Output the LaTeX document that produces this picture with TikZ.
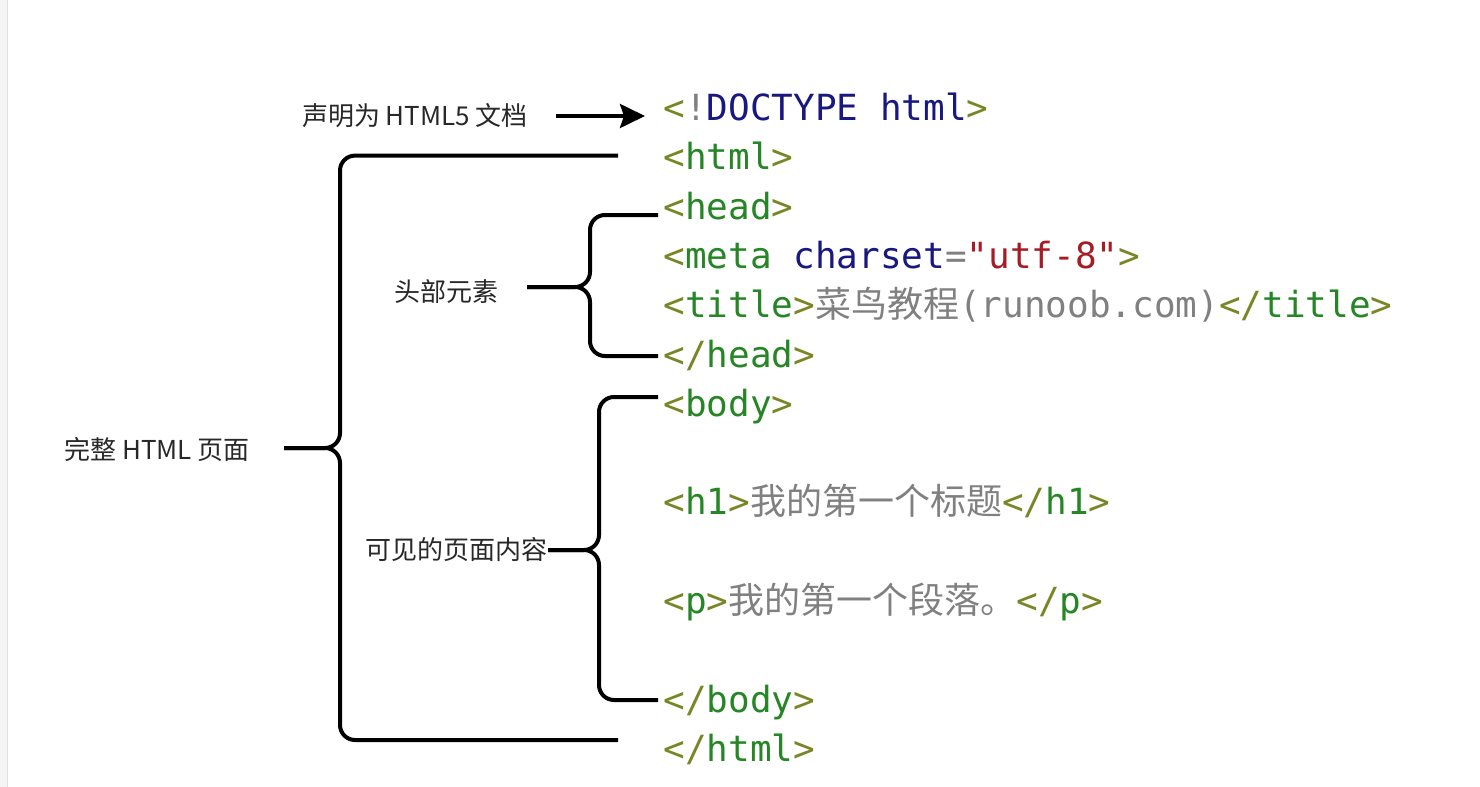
\documentclass[tikz,border=0pt]{standalone}
\usepackage{fontspec}
\setmonofont{DejaVu Sans Mono}
\newfontfamily\cjk{Noto Sans CJK SC}
\usetikzlibrary{arrows.meta}

\definecolor{brk}{RGB}{122,134,38}
\definecolor{tagc}{RGB}{38,134,38}
\definecolor{kwc}{RGB}{24,24,128}
\definecolor{strc}{RGB}{165,28,36}
\definecolor{txtc}{RGB}{128,128,128}
\definecolor{lblc}{RGB}{40,40,40}

\newcommand\bk[1]{\textcolor{brk}{#1}}
\newcommand\tg[1]{\textcolor{tagc}{#1}}
\newcommand\kw[1]{\textcolor{kwc}{#1}}
\newcommand\st[1]{\textcolor{strc}{#1}}
\newcommand\tx[1]{\textcolor{txtc}{#1}}
\newcommand\zh[1]{{\cjk #1}}

\begin{document}
\begin{tikzpicture}[x=0.5pt,y=-0.5pt,
  code/.style={anchor=base west, inner sep=0pt, font=\ttfamily\fontsize{18}{18}\selectfont},
  lbl/.style={inner sep=0pt, text=lblc, font=\cjk\fontsize{13}{13}\selectfont},
  brace/.style={line width=2pt, rounded corners=7.5pt},
  arr/.style={line width=2pt, -{Stealth[length=12.5pt,width=12pt,inset=2pt]}}]

	\useasboundingbox (0,0) rectangle (1480,787);
	\fill[white] (0,0) rectangle (1480,787);
	\fill[black!4] (0,0) rectangle (7,787);
	\draw[black!12] (7.5,0) -- (7.5,787);

	% code lines
	\node[code] (doctype) at (663,120) {\bk{<}\tx{!}\kw{DOCTYPE html}\bk{>}};
	\node[code] (html)    at (663,169) {\bk{<}\tg{html}\bk{>}};
	\node[code] (head)    at (663,219) {\bk{<}\tg{head}\bk{>}};
	\node[code] (meta)    at (663,268) {\bk{<}\tg{meta}\ \kw{charset}\tx{=}\st{"utf-8"}\bk{>}};
	\node[code] (title)   at (663,317) {\bk{<}\tg{title}\bk{>}\tx{\zh{菜鸟教程}(runoob.com)}\bk{</}\tg{title}\bk{>}};
	\node[code] (headend) at (663,367) {\bk{</}\tg{head}\bk{>}};
	\node[code] (body)    at (663,416) {\bk{<}\tg{body}\bk{>}};
	\node[code] (hone)    at (663,514) {\bk{<}\tg{h1}\bk{>}\tx{\zh{我的第一个标题}}\bk{</}\tg{h1}\bk{>}};
	\node[code] (para)    at (663,613) {\bk{<}\tg{p}\bk{>}\tx{\zh{我的第一个段落。}}\bk{</}\tg{p}\bk{>}};
	\node[code] (bodyend) at (663,712) {\bk{</}\tg{body}\bk{>}};
	\node[code] (htmlend) at (663,761) {\bk{</}\tg{html}\bk{>}};

	% labels
	\node[lbl] (decl)    at (415,116) {声明为 HTML5 文档};
	\node[lbl] (page)    at (157,450) {完整 HTML 页面};
	\node[lbl] (headlbl) at (446,292) {头部元素};
	\node[lbl, anchor=east] (bodylbl) at (548,550) {可见的页面内容};

	\draw[arr] ([xshift=14pt]decl.east) -- ([xshift=-9pt]decl.east -| doctype.west);

	% whole page
	\coordinate (pt) at (618,155.6);
	\coordinate (pb) at (618,740);
	\coordinate (pm) at (340,448);
	\coordinate (pl) at (284,448);
	\draw[brace] (pt) -| (pm) -- (pl);
	\draw[brace] (pb) -| (pm) -- (pl);

	% head
	\coordinate (ht) at (658,215);
	\coordinate (hb) at (658,356);
	\coordinate (hm) at (590,287);
	\coordinate (hl) at (527,287);
	\draw[brace] (ht) -| (hm) -- (hl);
	\draw[brace] (hb) -| (hm) -- (hl);

	% body
	\coordinate (bt) at (658,397);
	\coordinate (bb) at (658,700);
	\coordinate (bm) at (599,550);
	\coordinate (bl) at (bodylbl.east);
	\draw[brace] (bt) -| (bm) -- (bl);
	\draw[brace] (bb) -| (bm) -- (bl);

\end{tikzpicture}
\end{document}
